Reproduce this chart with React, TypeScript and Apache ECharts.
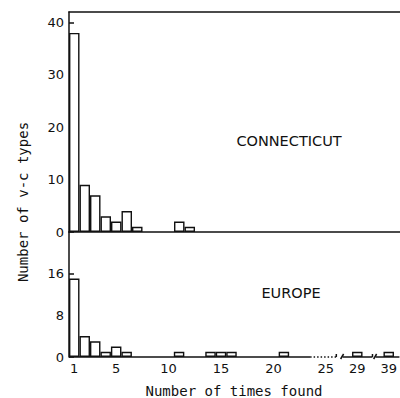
import { useEffect, useRef } from "react";
import * as echarts from "echarts";

// Data
const connecticutTimes = [1, 2, 3, 4, 5, 6, 7, 11, 12];
const connecticutCounts = [38, 9, 7, 3, 2, 4, 1, 2, 1];
const europeTimes = [1, 2, 3, 4, 5, 6, 11, 14, 15, 16, 21, 29, 39];
const europeCounts = [15, 4, 3, 1, 2, 1, 1, 1, 1, 1, 1, 1, 1];
const xTickValues = [1, 5, 10, 15, 20, 25, 29, 39];
const topYTicks = [0, 10, 20, 30, 40];
const bottomYLabels = [0, 8, 16];
const bottomYTicks = [0, 4, 8, 12, 16];
// values beyond the axis break sit in these slots
const brokenAxisSlots: Record<number, number> = { 29: 28, 39: 31 };
const toSlot = (t: number) => brokenAxisSlots[t] ?? t;
const fromSlot = (s: number) => {
  for (const k of Object.keys(brokenAxisSlots)) {
    if (brokenAxisSlots[Number(k)] === s) return Number(k);
  }
  return s;
};

const X_MIN = 0.5;
const X_MAX = 32.02;
const INK = "#111";
const LW = 1.5;
const FONT = "DejaVu Sans";
const MONO = "DejaVu Sans Mono";

export default function App() {
  const ref = useRef<HTMLDivElement>(null);
  useEffect(() => {
    if (!ref.current) return;
    const chart = echarts.init(ref.current, undefined, { renderer: "svg" });
    const barStyle = { color: "#fff", borderColor: INK, borderWidth: 1.4 };
    const yAxisCommon = {
      type: "value" as const,
      min: 0,
      splitLine: { show: false },
      axisLine: { show: true, lineStyle: { color: INK, width: LW } },
      axisLabel: { color: INK, fontFamily: FONT, fontSize: 13, margin: 5 },
    };
    chart.setOption({
      animation: false,
      grid: [
        { left: 69, right: 0, top: 12, height: 220 },
        { left: 69, right: 0, top: 232, height: 125 },
      ],
      xAxis: [
        {
          gridIndex: 0,
          type: "value",
          min: X_MIN,
          max: X_MAX,
          axisLine: { show: true, onZero: false, lineStyle: { color: INK, width: LW } },
          axisTick: { show: false },
          axisLabel: { show: false },
          splitLine: { show: false },
        },
        {
          gridIndex: 1,
          type: "value",
          min: X_MIN,
          max: X_MAX,
          axisLine: { show: false },
          axisTick: { show: false },
          splitLine: { show: false },
          axisLabel: {
            color: INK,
            fontFamily: FONT,
            fontSize: 13,
            margin: 5,
            customValues: xTickValues.map(toSlot),
            formatter: (v: number) => String(fromSlot(v)),
          },
        },
        {
          gridIndex: 0,
          type: "value",
          position: "top",
          min: X_MIN,
          max: X_MAX,
          axisLine: { show: true, onZero: false, lineStyle: { color: INK, width: LW } },
          axisTick: { show: false },
          axisLabel: { show: false },
          splitLine: { show: false },
        },
      ],
      yAxis: [
        {
          ...yAxisCommon,
          gridIndex: 0,
          max: 42,
          axisTick: { show: true, inside: true, length: 5, customValues: topYTicks, lineStyle: { color: INK, width: LW } },
          axisLabel: { ...yAxisCommon.axisLabel, customValues: topYTicks },
        },
        {
          ...yAxisCommon,
          gridIndex: 1,
          max: 23.9,
          axisTick: { show: true, inside: true, length: 5, customValues: bottomYTicks, lineStyle: { color: INK, width: LW } },
          axisLabel: { ...yAxisCommon.axisLabel, customValues: bottomYLabels },
        },
      ],
      series: [
        {
          type: "bar",
          xAxisIndex: 0,
          yAxisIndex: 0,
          barWidth: 10.5,
          itemStyle: barStyle,
          data: connecticutTimes.map((t, i) => [toSlot(t), connecticutCounts[i]]),
        },
        {
          type: "bar",
          xAxisIndex: 1,
          yAxisIndex: 1,
          barWidth: 10.5,
          itemStyle: barStyle,
          data: europeTimes.map((t, i) => [toSlot(t), europeCounts[i]]),
        },
      ],
    });

    // broken x axis of the lower panel
    const px = (v: number) => chart.convertToPixel({ xAxisIndex: 1 }, v) as number;
    const y0 = chart.convertToPixel({ yAxisIndex: 1 }, 0) as number;
    const line = (x1: number, y1: number, x2: number, y2: number, dash?: number[]) => ({
      type: "line",
      shape: { x1, y1, x2, y2 },
      style: { stroke: INK, lineWidth: LW, lineDash: dash },
      silent: true,
    });
    const segs: [number, number][] = [
      [X_MIN, 23.5],
      [26.6, 29.45],
      [29.75, X_MAX],
    ];
    const elements: any[] = segs.map(([a, b]) => line(px(a), y0, px(b), y0));
    elements.push(line(px(23.5), y0, px(26.0), y0, [1.5, 2]));
    // break marks
    [[26.0, 26.6], [29.45, 29.75]].forEach(([a, b]) => {
      elements.push(line(px(a), y0, px(a), y0 - 3));
      elements.push(line(px(b) - 2, y0 + 2, px(b) + 1, y0 - 3));
    });
    elements.push(
      {
        type: "text",
        x: 289,
        y: 141,
        style: { text: "CONNECTICUT", fill: INK, font: `14.5px "${FONT}"`, textAlign: "center", textVerticalAlign: "middle" },
      },
      {
        type: "text",
        x: 291,
        y: 293,
        style: { text: "EUROPE", fill: INK, font: `14.5px "${FONT}"`, textAlign: "center", textVerticalAlign: "middle" },
      },
      {
        type: "text",
        x: 234,
        y: 391,
        style: { text: "Number of times found", fill: INK, font: `14px "${MONO}"`, textAlign: "center", textVerticalAlign: "middle" },
      },
      {
        type: "text",
        x: 23,
        y: 202,
        rotation: Math.PI / 2,
        style: { text: "Number of v-c types", fill: INK, font: `14px "${MONO}"`, textAlign: "center", textVerticalAlign: "middle" },
      }
    );
    chart.setOption({ graphic: elements });
    return () => chart.dispose();
  }, []);
  return <div ref={ref} style={{ width: 400, height: 398, position: "absolute", left: 0, top: 0, background: "#fff" }} />;
}
